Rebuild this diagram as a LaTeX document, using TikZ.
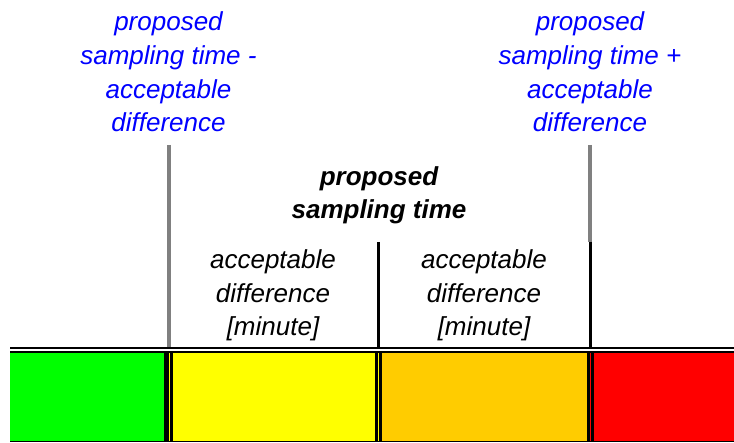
\documentclass[tikz,border=0pt]{standalone}
\usepackage{fontspec}
\setmainfont{Liberation Sans}
\definecolor{limblue}{RGB}{0,0,255}
\definecolor{okgreen}{RGB}{0,255,0}
\definecolor{warnyellow}{RGB}{255,255,0}
\definecolor{warnorange}{RGB}{255,204,0}
\definecolor{badred}{RGB}{255,0,0}
\definecolor{limgray}{RGB}{128,128,128}
\tikzset{
  lbl/.style={font=\fontsize{26}{33.7}\selectfont\itshape, align=center, inner sep=0pt, anchor=base},
  limlbl/.style={lbl, text=limblue},
  proplbl/.style={lbl, font=\fontsize{26}{33}\selectfont\itshape\bfseries},
  graymark/.style={draw=limgray, line width=3.2pt},
  blackmark/.style={draw=black, line width=3pt},
}
\begin{document}
\begin{tikzpicture}[x=1pt, y=-1pt]
  \useasboundingbox (0,0) rectangle (734,443);
  \fill[white] (0,0) rectangle (734,443);

  % labels (anchored at the baseline of their last line)
  \node[limlbl] (lowlim) at (168.5,132) {proposed\\sampling time -\\acceptable\\difference};
  \node[limlbl] (uplim) at (590,132) {proposed\\sampling time +\\acceptable\\difference};
  \node[proplbl] (prop) at (379,219) {proposed\\sampling time};
  \node[lbl] (accL) at (273,336) {acceptable\\difference\\{[minute]}};
  \node[lbl] (accR) at (484,336) {acceptable\\difference\\{[minute]}};

  % marker positions
  \coordinate (lowtop) at (169,145);
  \coordinate (lowbot) at (169,347);
  \coordinate (midtop) at (378.5,242);
  \coordinate (midbot) at (378.5,347);
  \coordinate (uptop) at (590,145);
  \coordinate (upmid) at (590,242);
  \coordinate (upbot) at (590,347);

  \draw[graymark] (lowtop) -- (lowbot);
  \draw[blackmark] (midtop) -- (midbot);
  \draw[graymark] (uptop) -- (upmid);
  \draw[blackmark] (upmid) -- (upbot);

  % scale bar: double rule on top
  \fill[black] (10,347) rectangle (734,349.3);
  \fill[black] (10,350.7) rectangle (734,353);

  % coloured cells
  \fill[okgreen] (10,353.5) rectangle (164,441.5);
  \fill[warnyellow] (173,353.5) rectangle (375,441.5);
  \fill[warnorange] (382,353.5) rectangle (587,441.5);
  \fill[badred] (594,353.5) rectangle (734,441.5);

  % dividers with thin coloured line in the middle
  \fill[black] (164,353) rectangle (173,441.5);
  \fill[warnyellow] (169,353) rectangle (170,441.5);
  \fill[black] (375,353) rectangle (382,441.5);
  \fill[warnyellow] (378,353) rectangle (379,441.5);
  \fill[black] (587,353) rectangle (594,441.5);
  \fill[badred] (590,353) rectangle (591,441.5);

  % bottom rule
  \fill[black] (10,441.5) rectangle (734,442.5);
\end{tikzpicture}
\end{document}
